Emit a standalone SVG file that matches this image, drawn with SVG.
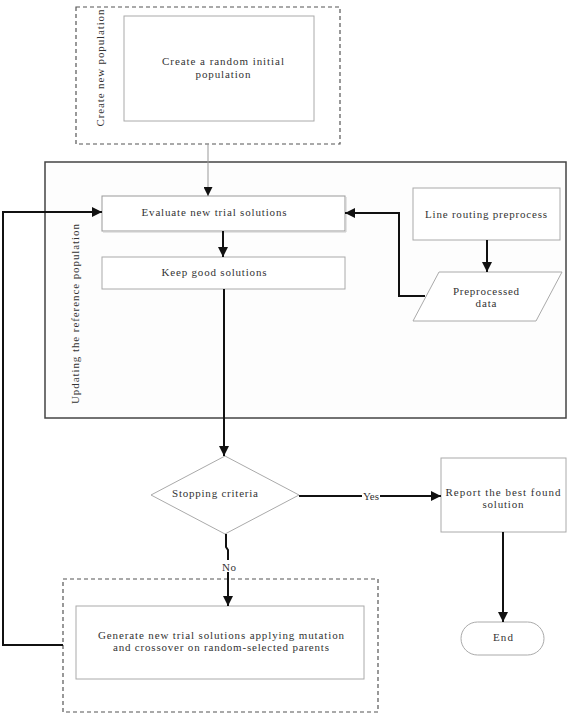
<svg xmlns="http://www.w3.org/2000/svg" width="568" height="724" viewBox="0 0 568 724">
<style>
  text { font-family: "Liberation Serif", "DejaVu Serif", serif; font-size: 11px; fill: #333; text-anchor: middle; }
  .box { fill: #fff; stroke: #aaa; stroke-width: 1; }
  .dash { fill: none; stroke: #555; stroke-width: 1.2; stroke-dasharray: 4 3; }
  .conn { fill: none; stroke: #111; stroke-width: 2; }
  .thin { fill: none; stroke: #999; stroke-width: 1; }
</style>
<defs>
  <marker id="ah" viewBox="0 0 10 10" refX="10" refY="5" markerWidth="5" markerHeight="5" orient="auto" markerUnits="strokeWidth">
    <path d="M0,0 L10,5 L0,10 z" fill="#111"/>
  </marker>
  <marker id="ahs" viewBox="0 0 10 10" refX="10" refY="5" markerWidth="9" markerHeight="9" orient="auto" markerUnits="strokeWidth">
    <path d="M0,0 L10,5 L0,10 z" fill="#111"/>
  </marker>
</defs>
<rect width="568" height="724" fill="#fff"/>

<g id="create-group">
  <rect class="dash" x="76" y="7" width="264" height="137"/>
  <text transform="translate(104,68) rotate(-90)" textLength="117" lengthAdjust="spacing">Create new population</text>
</g>
<g id="create-random">
  <rect class="box" x="124" y="16" width="190" height="105"/>
  <text x="223" y="65" textLength="122" lengthAdjust="spacing">Create a random initial</text>
  <text x="223" y="77.5" textLength="55" lengthAdjust="spacing">population</text>
</g>

<g id="update-group">
  <rect x="45" y="162" width="521" height="256" fill="#fdfdfd" stroke="#444" stroke-width="1.5"/>
  <text transform="translate(79,314) rotate(-90)" textLength="180" lengthAdjust="spacing">Updating the reference population</text>
</g>
<g id="evaluate">
  <rect class="box" x="102" y="196" width="243" height="35" style="stroke:#999"/>
  <path d="M103,232 H346 V197" fill="none" stroke="#ccc" stroke-width="1"/>
  <text x="214" y="216" textLength="145" lengthAdjust="spacing">Evaluate new trial solutions</text>
</g>
<g id="keep">
  <rect class="box" x="102" y="257" width="243" height="32"/>
  <text x="214" y="276" textLength="105" lengthAdjust="spacing">Keep good solutions</text>
</g>
<g id="line-routing">
  <rect class="box" x="413" y="188" width="147" height="52"/>
  <text x="486" y="218" textLength="122" lengthAdjust="spacing">Line routing preprocess</text>
</g>
<g id="preprocessed">
  <polygon class="box" points="439,272 562,272 536,321 413,321"/>
  <text x="486" y="294.5" textLength="66" lengthAdjust="spacing">Preprocessed</text>
  <text x="486" y="307" textLength="21" lengthAdjust="spacing">data</text>
</g>

<g id="stopping">
  <polygon class="box" points="151,495 225,456 299,495 225,534"/>
  <text x="215" y="497" textLength="86" lengthAdjust="spacing">Stopping criteria</text>
</g>
<g id="report">
  <rect class="box" x="441" y="458" width="125" height="74"/>
  <text x="503" y="495.5" textLength="115" lengthAdjust="spacing">Report the best found</text>
  <text x="503" y="508" textLength="41" lengthAdjust="spacing">solution</text>
</g>
<g id="end">
  <rect class="box" x="461" y="622" width="83" height="33" rx="16.5" ry="16.5"/>
  <text x="503" y="641" textLength="20" lengthAdjust="spacing">End</text>
</g>

<g id="generate-group">
  <rect class="dash" x="63" y="579" width="315" height="133"/>
</g>
<g id="generate">
  <rect class="box" x="76" y="606" width="288" height="73"/>
  <text x="221" y="638.5" textLength="246" lengthAdjust="spacing">Generate new trial solutions applying mutation</text>
  <text x="221" y="651" textLength="216" lengthAdjust="spacing">and crossover on random-selected parents</text>
</g>

<g id="connectors">
  <path class="thin" d="M208,144 V196" marker-end="url(#ahs)"/>
  <path class="conn" d="M223,231 V257" marker-end="url(#ah)"/>
  <path class="conn" d="M487,240 V272" marker-end="url(#ah)"/>
  <path class="conn" d="M425,296 H399 V213 H345" marker-end="url(#ah)"/>
  <path class="conn" d="M224,289 V456" marker-end="url(#ah)"/>
  <path class="conn" d="M299,496 H441" marker-end="url(#ah)"/>
  <rect x="362" y="489" width="18" height="14" fill="#fff"/>
  <text x="371" y="500" textLength="16" lengthAdjust="spacing">Yes</text>
  <path class="conn" d="M226,534 V547 L228,550 V606" marker-end="url(#ah)"/>
  <rect x="220" y="560" width="18" height="12" fill="#fff"/>
  <text x="229" y="571" textLength="14" lengthAdjust="spacing">No</text>
  <path class="conn" d="M503,532 V622" marker-end="url(#ah)"/>
  <path class="conn" d="M63,645 H3 V212 H102" marker-end="url(#ah)"/>
</g>
</svg>
